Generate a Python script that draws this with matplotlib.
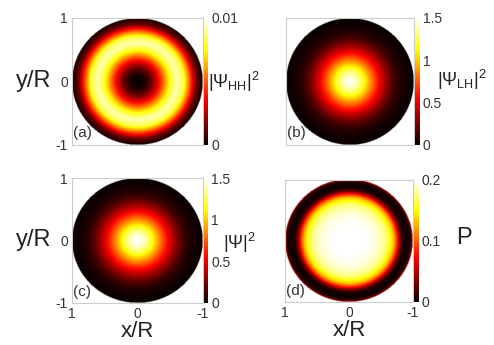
import numpy as np
import matplotlib
matplotlib.use('Agg')
import matplotlib.pyplot as plt

plt.rcParams['font.family'] = ['Liberation Sans', 'DejaVu Sans']
plt.rcParams['mathtext.fontset'] = 'custom'
plt.rcParams['mathtext.rm'] = 'Liberation Sans'
plt.rcParams['mathtext.it'] = 'Liberation Sans'

# radial profiles (r / R -> value)
r_a = [0, 0.1, 0.2, 0.3, 0.4, 0.5, 0.6, 0.7, 0.8, 0.9, 1.0]
hh = [0, 0.0002, 0.0012, 0.003, 0.0053, 0.0077, 0.0092, 0.0083, 0.005, 0.0015, 0.0001]

r_b = [0, 0.1, 0.2, 0.3, 0.4, 0.5, 0.6, 0.7, 0.8, 0.9, 1.0]
lh = [1.5, 1.4, 1.2, 0.93, 0.68, 0.45, 0.26, 0.12, 0.045, 0.015, 0]

r_c = [0, 0.1, 0.2, 0.3, 0.4, 0.5, 0.6, 0.7, 0.8, 0.9, 1.0]
psi = [1.5, 1.42, 1.22, 0.95, 0.7, 0.47, 0.28, 0.13, 0.05, 0.015, 0]

r_d = [0, 0.1, 0.2, 0.3, 0.4, 0.5, 0.6, 0.7, 0.75, 0.8, 0.85, 0.9, 0.95, 0.98, 1.0]
pol = [0.2, 0.2, 0.2, 0.198, 0.194, 0.186, 0.17, 0.13, 0.09, 0.035, 0.006, 0.002, 0.004, 0.02, 0.05]

labels = [r'$|\Psi_{\mathrm{HH}}|^2$', r'$|\Psi_{\mathrm{LH}}|^2$', r'$|\Psi|^2$', 'P']
letters = ['(a)', '(b)', '(c)', '(d)']
vmaxs = [0.01, 1.5, 1.5, 0.2]
cticks = [[0, 0.01], [0, 0.5, 1, 1.5], [0, 0.5, 1, 1.5], [0, 0.1, 0.2]]
cticklabels = [['0', '0.01'], ['0', '0.5', '1', '1.5'], ['0', '0.5', '1', '1.5'], ['0', '0.1', '0.2']]
profiles = [(r_a, hh), (r_b, lh), (r_c, psi), (r_d, pol)]

# axes boxes in figure fraction [left, bottom, width, height]
boxes = [[0.146, 0.58, 0.264, 0.368], [0.579, 0.58, 0.259, 0.368],
         [0.146, 0.122, 0.264, 0.362], [0.577, 0.125, 0.259, 0.354]]
# colorbar label anchor (pixels from top-left)
lab_xy = [(208, 82), (437, 80), (223, 243), (456, 238)]
lab_fs = [13, 13, 13, 17]

n = 301
g = np.linspace(-1, 1, n)
X, Y = np.meshgrid(g, g)
R = np.sqrt(X**2 + Y**2)

cmap = plt.get_cmap('hot').copy()
cmap.set_bad('white')

W, H = 494, 345
fig = plt.figure(figsize=(W / 100, H / 100), dpi=100)
tc = '#333333'
for i in range(4):
    rr, vv = profiles[i]
    Z = np.interp(R, rr, vv)
    Z = np.ma.masked_where(R > 1.0, Z)
    ax = fig.add_axes(boxes[i])
    im = ax.imshow(Z, cmap=cmap, vmin=0, vmax=vmaxs[i], extent=[1, -1, -1, 1],
                   origin='lower', interpolation='bilinear', aspect='auto')
    ax.set_xlim(1, -1)
    ax.set_ylim(-1, 1)
    for s in ax.spines.values():
        s.set_color('#cccccc')
        s.set_linewidth(0.8)
    ax.set_yticks([-1, 0, 1])
    ax.set_yticklabels(['-1', '0', '1'], fontsize=10, color=tc)
    ax.tick_params(length=0, pad=3)
    if i >= 2:
        ax.set_xticks([1, 0, -1])
        ax.set_xticklabels(['1', '0', '-1'], fontsize=10, color=tc)
        ax.set_xlabel('x/R', fontsize=16, color='#222222', labelpad=0)
    else:
        ax.set_xticks([])
    if i in (0, 2):
        ax.set_ylabel('y/R', fontsize=17, color='#222222', rotation=0, labelpad=16, va='center')
    else:
        ax.set_yticklabels([])
    ax.text(0.98, -0.93, letters[i], fontsize=11, color=tc, ha='left', va='bottom')

    b = boxes[i]
    cax = fig.add_axes([b[0] + b[2] + 0.003, b[1], 0.009, b[3]])
    cb = fig.colorbar(im, cax=cax)
    cb.outline.set_visible(False)
    cb.set_ticks(cticks[i])
    cb.set_ticklabels(cticklabels[i])
    cax.tick_params(length=0, labelsize=10, labelcolor=tc, pad=2)
    lx, ly = lab_xy[i]
    fig.text(lx / W, 1 - ly / H, labels[i], fontsize=lab_fs[i],
             color='#222222', ha='left', va='center')

fig.savefig('out.png', dpi=100)
